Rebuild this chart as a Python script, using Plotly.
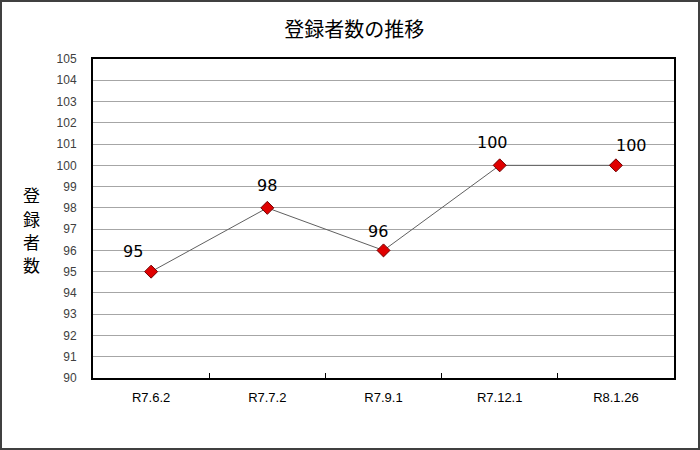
import plotly.graph_objects as go

# data
dates = ["R7.6.2", "R7.7.2", "R7.9.1", "R7.12.1", "R8.1.26"]
registrants = [95, 98, 96, 100, 100]
y_ticks = list(range(90, 106))

# small nudges for the value labels (they sit a bit off-centre in the original)
label_dx = [-18, 0, -6, -7, 16]
label_dy = [20, 22, 19, 23, 20]

fig = go.Figure()
fig.add_scatter(
    x=dates, y=registrants,
    mode="lines+markers",
    line=dict(color="#606060", width=1),
    marker=dict(symbol="diamond", size=10, color="#e00000",
                line=dict(color="#700000", width=1)),
    showlegend=False,
)

for d, v, dx, dy in zip(dates, registrants, label_dx, label_dy):
    fig.add_annotation(x=d, y=v, text=str(v), showarrow=False,
                       xshift=dx, yshift=dy,
                       font=dict(family="DejaVu Sans", size=16, color="black"))

fig.update_layout(
    width=700, height=450,
    margin=dict(l=93, r=26, t=59, b=72),
    paper_bgcolor="white", plot_bgcolor="white",
    title=dict(text="登録者数の推移", x=0.506, xanchor="center", y=0.933, yanchor="middle",
               font=dict(family="Noto Sans CJK JP", size=20, color="black")),
    font=dict(family="Liberation Sans, Arial", color="black"),
)

fig.update_xaxes(
    type="category", range=[-0.5, len(dates) - 0.5],
    showline=True, linecolor="black", linewidth=2, mirror=True,
    showgrid=False, ticks="inside", tickson="boundaries", ticklen=5, tickcolor="black",
    tickfont=dict(size=13, color="black"), ticklabelstandoff=6,
)
fig.update_yaxes(
    range=[90, 105], tickvals=y_ticks,
    showline=True, linecolor="black", linewidth=2, mirror=True,
    showgrid=True, gridcolor="#a6a6a6", gridwidth=1,
    ticks="", tickfont=dict(size=12, color="#404040"), ticklabelstandoff=12,
    zeroline=False,
)

# vertical axis title, one character per line
for ch, py in zip("登録者数", [0.574, 0.501, 0.428, 0.355]):
    fig.add_annotation(text=ch, xref="paper", yref="paper",
                       x=-0.105, y=py, xanchor="center", yanchor="middle", showarrow=False,
                       font=dict(family="Noto Sans CJK JP", size=17, color="black"))

# outer frame of the chart
fig.add_shape(type="rect", xref="paper", yref="paper",
              x0=-92/581, x1=1 + 25/581, y0=-71/319, y1=1 + 58/319,
              line=dict(color="#404040", width=2), layer="below")

fig.write_html("out.html", config={"displayModeBar": False},
               post_script="document.body.style.margin='0';document.body.style.overflow='hidden';")
